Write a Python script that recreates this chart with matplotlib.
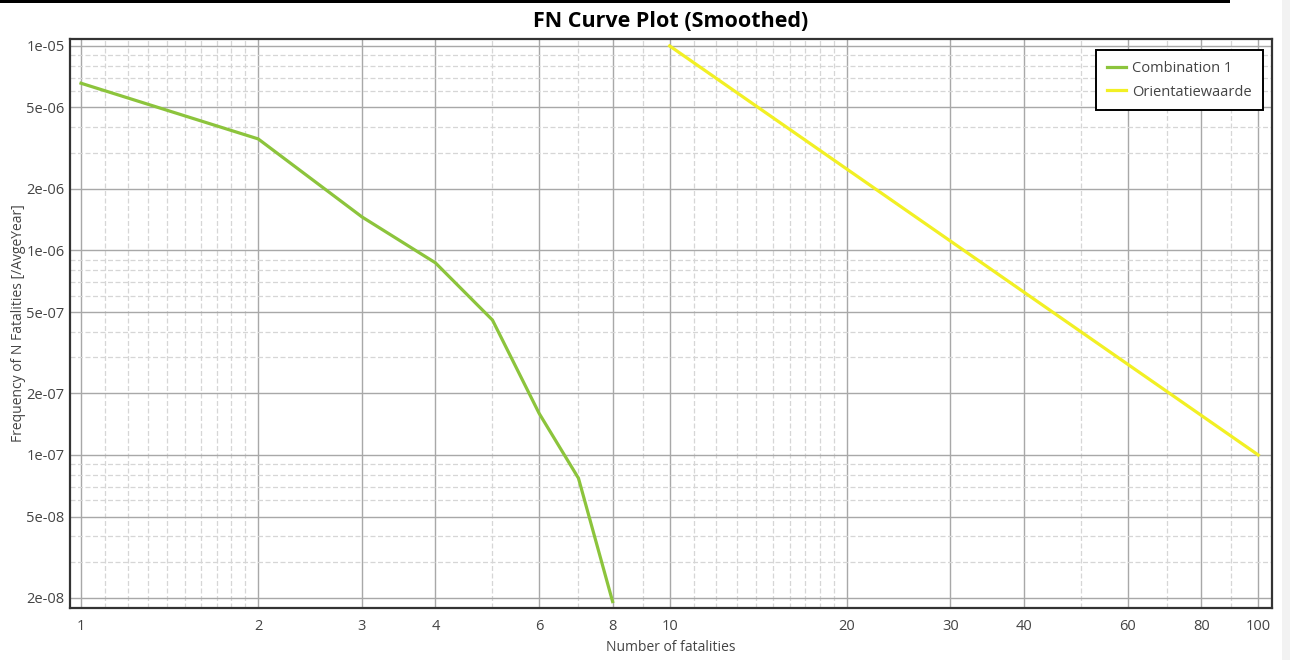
import numpy as np
import matplotlib
matplotlib.use("Agg")
import matplotlib.pyplot as plt
from matplotlib.ticker import FixedLocator, FixedFormatter, NullFormatter
from matplotlib.patches import Rectangle

plt.rcParams['font.family'] = ['Open Sans', 'DejaVu Sans']

# Combination 1 (smoothed FN curve)
n_comb = [1, 2, 3, 4, 5, 6, 7, 8]
f_comb = [6.57e-6, 3.51e-6, 1.46e-6, 8.7e-7, 4.57e-7, 1.6e-7, 7.7e-8, 1.92e-8]

# Orientatiewaarde
n_orient = [10, 100]
f_orient = [1e-5, 1e-7]

x_major = [1, 2, 3, 4, 6, 8, 10, 20, 30, 40, 60, 80, 100]
x_minor = [1.1, 1.2, 1.3, 1.4, 1.5, 1.6, 1.7, 1.8, 1.9, 5, 7, 9,
           11, 12, 13, 14, 15, 16, 17, 18, 19, 50, 70, 90]
y_major = [2e-8, 5e-8, 1e-7, 2e-7, 5e-7, 1e-6, 2e-6, 5e-6, 1e-5]
y_major_labels = ['2e-08', '5e-08', '1e-07', '2e-07', '5e-07', '1e-06', '2e-06', '5e-06', '1e-05']
y_minor = [m * 10.0 ** e for e in (-8, -7, -6, -5) for m in (3, 4, 6, 7, 8, 9)]

fig = plt.figure(figsize=(12.9, 6.6), dpi=100)
ax = fig.add_axes([0.0543, 0.0788, 0.9317, 0.8621])

ax.plot(n_comb, f_comb, color='#8cc43c', lw=2.3, label='Combination 1', zorder=3)
ax.plot(n_orient, f_orient, color='#f2f024', lw=2.3, label='Orientatiewaarde', zorder=3)

ax.set_xscale('log')
ax.set_yscale('log')
ax.set_xlim(0.958, 105.5)
ax.set_ylim(1.786e-8, 1.081e-5)

ax.xaxis.set_major_locator(FixedLocator(x_major))
ax.xaxis.set_major_formatter(FixedFormatter([str(v) for v in x_major]))
ax.xaxis.set_minor_locator(FixedLocator(x_minor))
ax.xaxis.set_minor_formatter(NullFormatter())
ax.yaxis.set_major_locator(FixedLocator(y_major))
ax.yaxis.set_major_formatter(FixedFormatter(y_major_labels))
ax.yaxis.set_minor_locator(FixedLocator(y_minor))
ax.yaxis.set_minor_formatter(NullFormatter())

ax.grid(which='major', color='#a8a8a8', lw=1.0, ls='-')
ax.grid(which='minor', color='#d6d6d6', lw=0.9, ls=(0, (4, 2)))
ax.set_axisbelow(True)

ax.tick_params(which='both', length=0, labelsize=10.5, colors='#444444')
ax.tick_params(axis='x', pad=8)
ax.tick_params(axis='y', pad=4)
for s in ax.spines.values():
    s.set_color('#333333')
    s.set_linewidth(1.6)

ax.set_title('FN Curve Plot (Smoothed)', fontsize=15.5, fontweight='bold', pad=9)
ax.set_xlabel('Number of fatalities', fontsize=10, color='#444444', labelpad=4)
ax.set_ylabel('Frequency of N Fatalities [/AvgeYear]', fontsize=10, color='#444444', labelpad=0)

leg = ax.legend(loc='upper right', fontsize=10.5, frameon=True, fancybox=False,
                borderpad=0.75, labelspacing=0.6, handlelength=1.3, handletextpad=0.45,
                borderaxespad=0, bbox_to_anchor=(0.9925, 0.981))
leg.get_frame().set_edgecolor('black')
leg.get_frame().set_linewidth(1.4)
leg.get_frame().set_alpha(1)
for t in leg.get_texts():
    t.set_color('#444444')

# thin black strip on top and grey strip at the right edge of the screenshot
fig.add_artist(Rectangle((0, 1 - 3 / 660), 1230 / 1290, 3 / 660, transform=fig.transFigure,
                         facecolor='black', edgecolor='none'))
fig.add_artist(Rectangle((1282 / 1290, 0), 8 / 1290, 1, transform=fig.transFigure,
                         facecolor='#f2f2f2', edgecolor='none'))

fig.savefig('out.png', dpi=100)
